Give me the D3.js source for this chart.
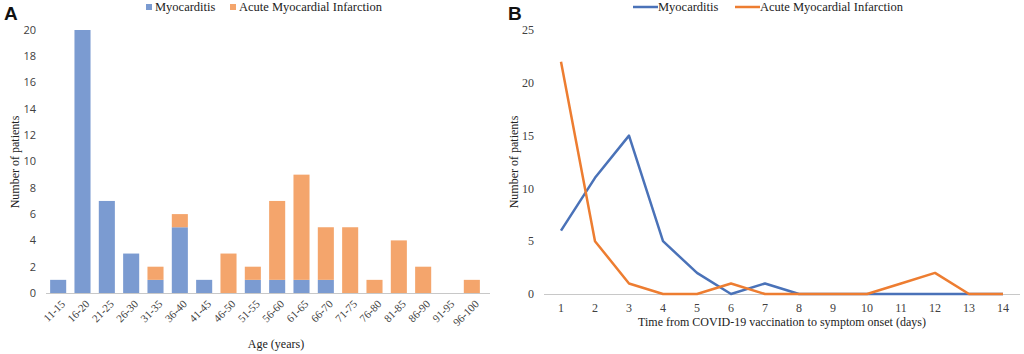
<!DOCTYPE html>
<html>
<head>
<meta charset="utf-8">
<script src="https://cdn.jsdelivr.net/npm/d3@7"></script>
<style>
  body { margin: 0; background: #fff; }
  svg { display: block; }
</style>
</head>
<body>
<svg id="chart" width="1024" height="354"></svg>
<script>
// Panel A: age groups
const ageGroups = ["11-15", "16-20", "21-25", "26-30", "31-35", "36-40", "41-45", "46-50", "51-55",
    "56-60", "61-65", "66-70", "71-75", "76-80", "81-85", "86-90", "91-95", "96-100"];
const myoByAge = [1, 20, 7, 3, 1, 5, 1, 0, 1, 1, 1, 1, 0, 0, 0, 0, 0, 0];
const amiByAge = [0, 0, 0, 0, 1, 1, 0, 3, 1, 6, 8, 4, 5, 1, 4, 2, 0, 1];
const ageTicks = [0, 2, 4, 6, 8, 10, 12, 14, 16, 18, 20];

// Panel B: days from vaccination to onset
const days = [1, 2, 3, 4, 5, 6, 7, 8, 9, 10, 11, 12, 13, 14];
const myoByDay = [6, 11, 15, 5, 2, 0, 1, 0, 0, 0, 0, 0, 0, 0];
const amiByDay = [22, 5, 1, 0, 0, 1, 0, 0, 0, 0, 1, 2, 0, 0];
const dayTicks = [0, 5, 10, 15, 20, 25];

const serif = "'Liberation Serif', 'Times New Roman', serif";
const sans = "'Open Sans', 'Noto Sans', sans-serif";
const textColor = "#404040";

const svg = d3.select("#chart");

// ---------- Panel A ----------
const blueA = "#7b9bd1", orangeA = "#f4a56c";

const xA = d3.scaleBand().domain(ageGroups).range([46, 484]).paddingInner(0.34).paddingOuter(0.17);
const yA = d3.scaleLinear().domain([0, 20]).range([293, 30]);

const gA = svg.append("g");

gA.append("g")
    .selectAll("text")
    .data(ageTicks)
    .join("text")
    .attr("x", 36)
    .attr("y", d => yA(d))
    .attr("dy", "0.35em")
    .attr("text-anchor", "end")
    .attr("font-family", sans)
    .attr("font-size", 11)
    .attr("fill", textColor)
    .text(d => d);

const stacked = ageGroups.map((g, i) => ({group: g, myo: myoByAge[i], ami: amiByAge[i]}));

gA.append("g")
    .selectAll("rect")
    .data(stacked)
    .join("rect")
    .attr("x", d => xA(d.group))
    .attr("width", xA.bandwidth())
    .attr("y", d => yA(d.myo))
    .attr("height", d => yA(0) - yA(d.myo))
    .attr("fill", blueA);

gA.append("g")
    .selectAll("rect")
    .data(stacked)
    .join("rect")
    .attr("x", d => xA(d.group))
    .attr("width", xA.bandwidth())
    .attr("y", d => yA(d.myo + d.ami))
    .attr("height", d => yA(d.myo) - yA(d.myo + d.ami))
    .attr("fill", orangeA);

gA.append("line")
    .attr("x1", 46).attr("x2", 490)
    .attr("y1", yA(0) + 0.5).attr("y2", yA(0) + 0.5)
    .attr("stroke", "#c8c8c8");

gA.append("g")
    .selectAll("text")
    .data(ageGroups)
    .join("text")
    .attr("transform", d => `translate(${xA(d) + xA.bandwidth() / 2 + 5},${yA(0) + 9}) rotate(-45)`)
    .attr("text-anchor", "end")
    .attr("dy", "0.35em")
    .attr("font-family", serif)
    .attr("font-size", 11)
    .attr("fill", textColor)
    .text(d => d);

gA.append("text")
    .attr("x", 276).attr("y", 348)
    .attr("text-anchor", "middle")
    .attr("font-family", serif).attr("font-size", 12).attr("fill", "#222")
    .text("Age (years)");

gA.append("text")
    .attr("transform", "translate(19,162) rotate(-90)")
    .attr("text-anchor", "middle")
    .attr("font-family", serif).attr("font-size", 12).attr("fill", "#222")
    .text("Number of patients");

// legend A
const legA = [{name: "Myocarditis", color: blueA, x: 146}, {name: "Acute Myocardial Infarction", color: orangeA, x: 230}];
const lA = gA.append("g").selectAll("g").data(legA).join("g");
lA.append("rect").attr("x", d => d.x).attr("y", 4).attr("width", 6).attr("height", 6).attr("fill", d => d.color);
lA.append("text").attr("x", d => d.x + 9).attr("y", 7).attr("dy", "0.35em")
    .attr("font-family", serif).attr("font-size", 12.5).attr("fill", "#222")
    .text(d => d.name);

gA.append("text").attr("x", 4).attr("y", 20)
    .attr("font-family", "'Liberation Sans', Arial, sans-serif").attr("font-weight", "bold")
    .attr("font-size", 19).attr("fill", "#111").text("A");

// ---------- Panel B ----------
const blueB = "#4a72b8", orangeB = "#ed7d31";

const xB = d3.scalePoint().domain(days).range([544, 1020]).padding(0.5);
const yB = d3.scaleLinear().domain([0, 25]).range([294, 30]);

const gB = svg.append("g");

gB.append("g")
    .selectAll("text")
    .data(dayTicks)
    .join("text")
    .attr("x", 534)
    .attr("y", d => yB(d))
    .attr("dy", "0.35em")
    .attr("text-anchor", "end")
    .attr("font-family", serif)
    .attr("font-size", 12)
    .attr("fill", textColor)
    .text(d => d);

gB.append("line")
    .attr("x1", 544).attr("x2", 1020)
    .attr("y1", yB(0) + 0.5).attr("y2", yB(0) + 0.5)
    .attr("stroke", "#c8c8c8");

gB.append("g")
    .selectAll("text")
    .data(days)
    .join("text")
    .attr("x", d => xB(d))
    .attr("y", 308)
    .attr("dy", "0.35em")
    .attr("text-anchor", "middle")
    .attr("font-family", serif)
    .attr("font-size", 12)
    .attr("fill", textColor)
    .text(d => d);

const line = d3.line().x((d, i) => xB(days[i])).y(d => yB(d));

gB.append("path").datum(myoByDay)
    .attr("d", line).attr("fill", "none")
    .attr("stroke", blueB).attr("stroke-width", 2.5).attr("stroke-linejoin", "round");
gB.append("path").datum(amiByDay)
    .attr("d", line).attr("fill", "none")
    .attr("stroke", orangeB).attr("stroke-width", 2.5).attr("stroke-linejoin", "round");

gB.append("text")
    .attr("x", 782).attr("y", 326)
    .attr("text-anchor", "middle")
    .attr("font-family", serif).attr("font-size", 12).attr("fill", "#222")
    .text("Time from COVID-19 vaccination to symptom onset (days)");

gB.append("text")
    .attr("transform", "translate(518,162) rotate(-90)")
    .attr("text-anchor", "middle")
    .attr("font-family", serif).attr("font-size", 12).attr("fill", "#222")
    .text("Number of patients");

// legend B
const legB = [{name: "Myocarditis", color: blueB, x: 633}, {name: "Acute Myocardial Infarction", color: orangeB, x: 735}];
const lB = gB.append("g").selectAll("g").data(legB).join("g");
lB.append("line").attr("x1", d => d.x).attr("x2", d => d.x + 25).attr("y1", 7).attr("y2", 7)
    .attr("stroke", d => d.color).attr("stroke-width", 2.5);
lB.append("text").attr("x", d => d.x + 25).attr("y", 7).attr("dy", "0.35em")
    .attr("font-family", serif).attr("font-size", 12.5).attr("fill", "#222")
    .text(d => d.name);

gB.append("text").attr("x", 508).attr("y", 20)
    .attr("font-family", "'Liberation Sans', Arial, sans-serif").attr("font-weight", "bold")
    .attr("font-size", 19).attr("fill", "#111").text("B");
</script>
</body>
</html>
